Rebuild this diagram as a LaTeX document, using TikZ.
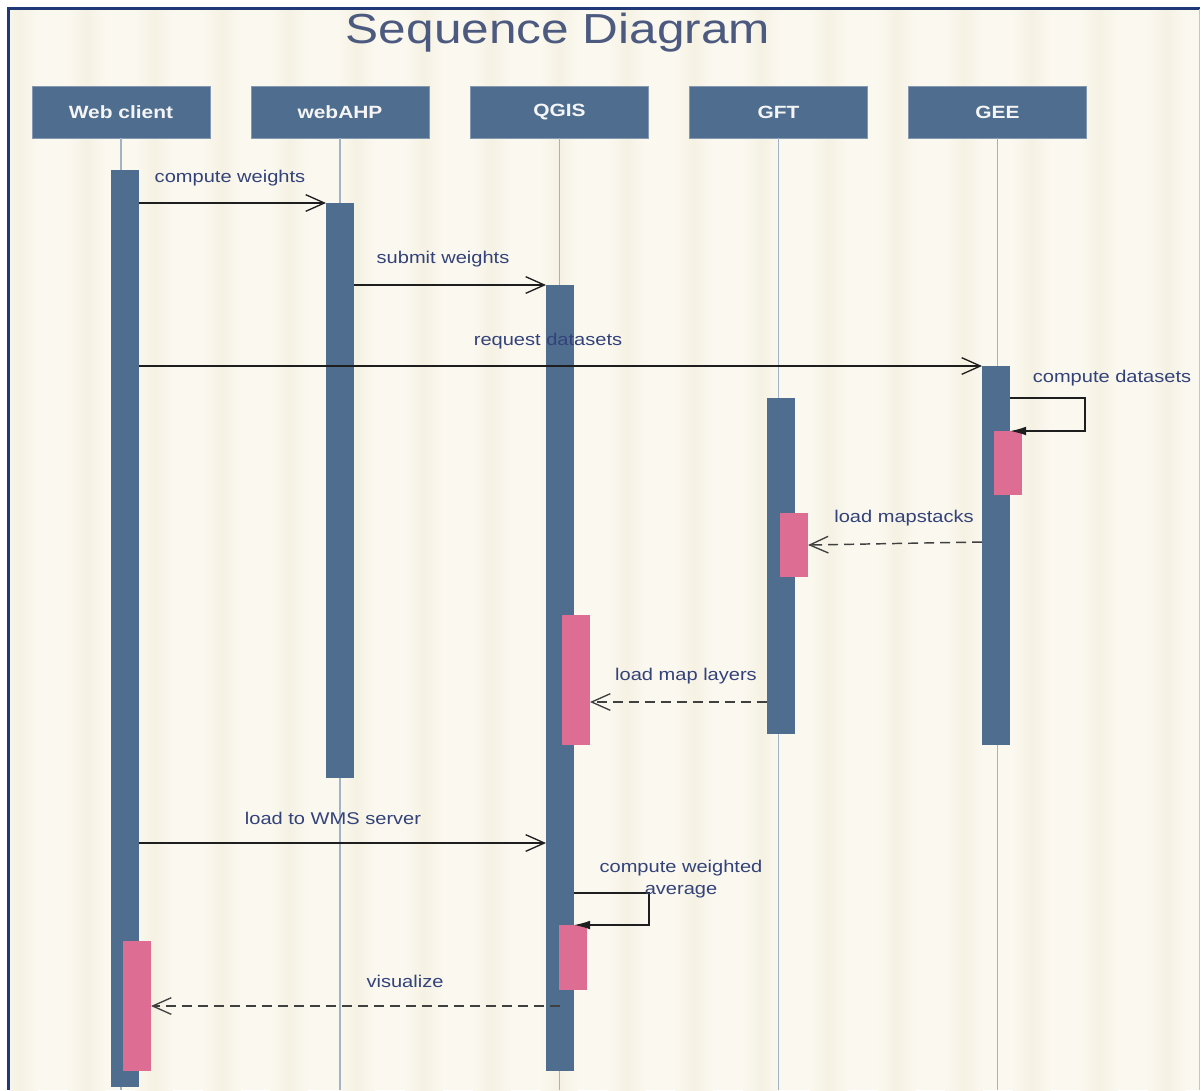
\documentclass[tikz,border=0pt]{standalone}
\usepackage{fontspec}
\setmainfont{Liberation Sans}
\newfontfamily\lblfont[FakeStretch=1.18]{Liberation Sans}
\usetikzlibrary{arrows.meta,fit,calc}
\definecolor{bg}{HTML}{FBF8F0}
\definecolor{stripe}{HTML}{F5F1E3}
\definecolor{barblue}{HTML}{4F6D8F}
\definecolor{pinkbar}{HTML}{DD6D93}
\definecolor{lifeline}{HTML}{A3B3C6}
\definecolor{lbl}{HTML}{33437A}
\definecolor{ttl}{HTML}{4D5A80}
\definecolor{framec}{HTML}{1E3878}
\definecolor{arrowc}{HTML}{1E1E1E}
\tikzset{
  head/.style={fill=barblue, draw=barblue!70!white, line width=0.6pt, minimum width=133.5pt, minimum height=39pt, inner sep=0pt, text=white!96!black, font=\lblfont\bfseries\fontsize{13.3}{16}\selectfont},
  actbar/.style={fill=barblue, inner sep=0pt, outer sep=0pt},
  pinkact/.style={fill=pinkbar, inner sep=0pt, outer sep=0pt},
  life/.style={draw=lifeline, line width=1.3pt},
  msg/.style={draw=arrowc, line width=1.05pt, -{Straight Barb[length=14pt,width=12.5pt,line width=1pt]}},
  reply/.style={draw=arrowc!85!white, line width=1.1pt, dash pattern=on 7.5pt off 4.5pt, -{Straight Barb[length=14pt,width=12.5pt,line width=1pt]}},
  selfmsg/.style={draw=arrowc, line width=1.05pt, -{Latex[length=12pt,width=6.5pt]}},
  msglabel/.style={text=lbl, font=\lblfont\fontsize{12.75}{15}\selectfont, inner sep=0pt, align=center},
}
\begin{document}
\begin{tikzpicture}[x=0.75pt,y=-0.75pt]
\useasboundingbox (0,0) rectangle (1201,1090);
\fill[white] (0,0) rectangle (1201,1090);
\fill[bg] (8,8) rectangle (1200,1090);
\begin{scope}
  \clip (9,9) rectangle (1199,1090);
  \foreach \s in {0,...,17} {
    \pgfmathsetmacro\xx{0+67.5*\s}
    \shade[left color=bg, right color=bg, middle color=stripe] (\xx,9) rectangle (\xx+38,1090);
  }
\end{scope}
\draw[framec, line width=1.6pt] (8.5,1090) -- (8.5,8.5) -- (1200,8.5);
\draw[gray!45, line width=0.8pt] (1199.5,9) -- (1199.5,1090);

% title
\node[text=ttl, font=\lblfont\fontsize{31.5}{36}\selectfont, inner sep=0pt] (title) at (558,33) {Sequence Diagram};

% headers
\node[head] (h1) at (121,112) {Web client};
\node[head] (h2) at (340,112) {webAHP};
\node[head] (h3) at (559.5,112) {QGIS};
\node[head] (h4) at (778.5,112) {GFT};
\node[head] (h5) at (997.5,112) {GEE};

% lifeline ends
\coordinate (e1) at (121,1090);
\coordinate (e2) at (340,1090);
\coordinate (e3) at (559.5,1090);
\coordinate (e4) at (778.5,1090);
\coordinate (e5) at (997.5,1090);
\draw[life] (h1.south) -- (e1);
\draw[life] (h2.south) -- (e2);
\draw[life] (h3.south) -- (e3);
\draw[life] (h4.south) -- (e4);
\draw[life] (h5.south) -- (e5);

% activation bars
\node[actbar, fit={(111,170)(139,1087)}] (b1) {};
\node[actbar, fit={(326,203)(354,778)}] (b2) {};
\node[actbar, fit={(546,285)(574,1071)}] (b3) {};
\node[actbar, fit={(767,398)(795,734)}] (b4) {};
\node[actbar, fit={(982,366)(1010,745)}] (b5) {};

% pink bars
\node[pinkact, fit={(994,431)(1022,495)}] (p5) {};
\node[pinkact, fit={(780,513)(808,577)}] (p4) {};
\node[pinkact, fit={(562,615)(590,745)}] (p3a) {};
\node[pinkact, fit={(559,925)(587,990)}] (p3b) {};
\node[pinkact, fit={(123,941)(151,1071)}] (p1) {};

% messages
\draw[msg] (b1.east |- 0,203) -- (b2.west |- 0,203);
\node[msglabel] (l1) at (230,178) {compute weights};

\draw[msg] (b2.east |- 0,285) -- (b3.west |- 0,285);
\node[msglabel] (l2) at (443,259) {submit weights};

\draw[msg] (b1.east |- 0,366) -- (b5.west |- 0,366);
\node[msglabel] (l3) at (548,341) {request datasets};

\draw[selfmsg] (b5.east |- 0,398) -- (1085,398) -- (1085,431) -- (b5.east |- 0,431);
\node[msglabel] (l4) at (1112,378) {compute datasets};

\draw[reply] (b5.west |- 0,542) -- (p4.east |- 0,545);
\node[msglabel] (l5) at (904,518) {load mapstacks};

\draw[reply] (b4.west |- 0,702) -- (p3a.east |- 0,702);
\node[msglabel] (l6) at (686,676) {load map layers};

\draw[msg] (b1.east |- 0,843) -- (b3.west |- 0,843);
\node[msglabel] (l7) at (333,818) {load to WMS server};

\draw[selfmsg] (b3.east |- 0,893) -- (649,893) -- (649,925) -- (b3.east |- 0,925);
\node[msglabel] (l8) at (681,879) {compute weighted\\[2pt]average};

\draw[reply] (b3.center |- 0,1006) -- (p1.east |- 0,1006);
\node[msglabel] (l9) at (405,981) {visualize};
\end{tikzpicture}
\end{document}
